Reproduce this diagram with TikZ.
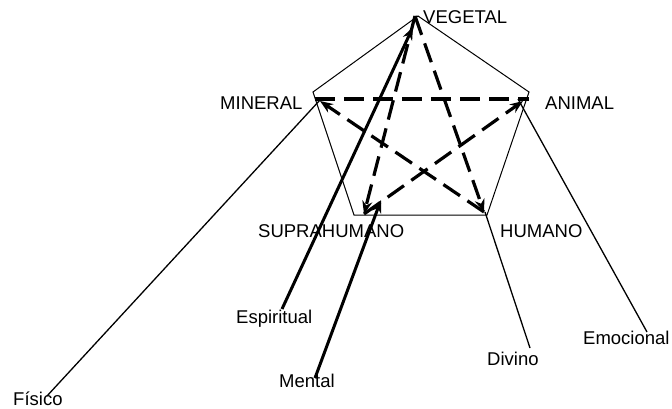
\documentclass[tikz,border=0pt]{standalone}
\usepackage{fontspec}
\setmainfont{Liberation Sans}
\usetikzlibrary{arrows.meta}
\begin{document}
\begin{tikzpicture}[x=1pt,y=-1pt,
  lbl/.style={inner sep=0pt, anchor=base west, font=\fontsize{18.5}{20}\selectfont},
  edgeline/.style={line width=1pt},
  thinlink/.style={line width=1.3pt},
  boldlink/.style={line width=3pt, -{Stealth[length=13pt,width=10pt]}},
  starlink/.style={line width=3.2pt, dash pattern=on 20pt off 9pt},
  stararrow/.style={starlink, -{Stealth[length=13pt,width=10pt]}}]
\useasboundingbox (0,0) rectangle (672,409);
% pentagon
\coordinate (pV) at (418,16);
\coordinate (pL) at (313,92);
\coordinate (pR) at (529,92);
\coordinate (pBL) at (354,215);
\coordinate (pBR) at (487,215);
\draw[edgeline] (pV) -- (pR) -- (pBR) -- (pBL) -- (pL) -- cycle;
% star points
\coordinate (sV) at (415,16);
\coordinate (sM) at (315,99);
\coordinate (sMt) at (320,101);
\coordinate (sA) at (529,99);
\coordinate (sAt) at (523,101);
\coordinate (sS) at (364,214);
\coordinate (sH) at (484,212);
% labels
\node[lbl] (veg) at (423,24) {VEGETAL};
\node[lbl] (min) at (220,110) {MINERAL};
\node[lbl] (ani) at (545,110) {ANIMAL};
\node[lbl] (sup) at (258,237) {SUPRAHUMANO};
\node[lbl] (hum) at (500,237) {HUMANO};
\node[lbl] (esp) at (236,323) {Espiritual};
\node[lbl] (men) at (279,387) {Mental};
\node[lbl] (fis) at (13,405) {Físico};
\node[lbl] (div) at (487,365) {Divino};
\node[lbl] (emo) at (583,344) {Emocional};
% free ends of the side links
\coordinate (eFis) at (47,396);
\coordinate (eEsp) at (282,309);
\coordinate (eMen) at (315,378);
\coordinate (eDiv) at (530,348);
\coordinate (eEmo) at (647,332);
\coordinate (tEsp) at (413,27);
\coordinate (tMen) at (381,200);
\coordinate (tFis) at (320,100);
\coordinate (tDiv) at (485,212);
\coordinate (tEmo) at (518,99);
% star
\draw[starlink] (sM) -- (sA);
\draw[stararrow] (sH) -- (sMt);
\draw[stararrow] (sS) -- (sAt);
\draw[stararrow] (sV) -- (sH);
\draw[stararrow] (sV) -- (sS);
% side links
\draw[thinlink] (eFis) -- (tFis);
\draw[boldlink] (eEsp) -- (tEsp);
\draw[boldlink] (eMen) -- (tMen);
\draw[thinlink] (eDiv) -- (tDiv);
\draw[thinlink] (eEmo) -- (tEmo);
\end{tikzpicture}
\end{document}
